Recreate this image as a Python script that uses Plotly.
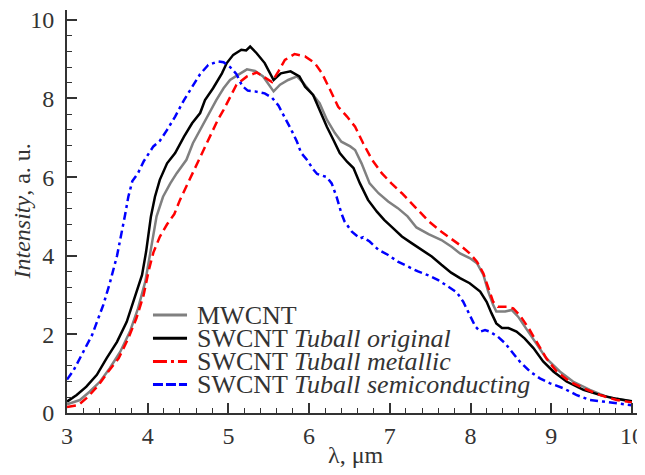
import plotly.graph_objects as go

# ---------------- data ----------------
mw_x = [3.00, 3.04, 3.16, 3.28, 3.41, 3.53, 3.66, 3.78, 3.88, 3.97, 4.02, 4.07, 4.11, 4.19, 4.28,
        4.36, 4.48, 4.56, 4.67, 4.77, 4.85, 4.94, 5.02, 5.12, 5.23, 5.33, 5.43, 5.56, 5.64, 5.74,
        5.85, 5.93, 6.03, 6.13, 6.22, 6.32, 6.40, 6.51, 6.57, 6.65, 6.75, 6.86, 6.98, 7.10, 7.22,
        7.33, 7.48, 7.64, 7.77, 7.87, 7.99, 8.08, 8.16, 8.22, 8.28, 8.32, 8.43, 8.51, 8.59, 8.70,
        8.82, 8.94, 9.11, 9.27, 9.48, 9.69, 9.89, 10.0]
mw_y = [0.22, 0.25, 0.33, 0.54, 0.80, 1.14, 1.56, 2.07, 2.66, 3.34, 3.94, 4.61, 5.00, 5.50, 5.84,
        6.10, 6.44, 6.86, 7.28, 7.63, 7.96, 8.26, 8.47, 8.60, 8.74, 8.70, 8.56, 8.18, 8.35, 8.47,
        8.56, 8.39, 8.13, 7.88, 7.46, 7.12, 6.90, 6.78, 6.69, 6.35, 5.84, 5.59, 5.38, 5.21, 5.00,
        4.72, 4.55, 4.40, 4.22, 4.06, 3.94, 3.81, 3.51, 3.09, 2.75, 2.58, 2.58, 2.62, 2.45, 2.11,
        1.73, 1.39, 1.05, 0.80, 0.59, 0.41, 0.33, 0.29]

orig_x = [3.00, 3.12, 3.24, 3.37, 3.49, 3.62, 3.74, 3.84, 3.93, 3.98, 4.01, 4.04, 4.09, 4.15, 4.24,
          4.34, 4.45, 4.55, 4.65, 4.71, 4.81, 4.92, 4.98, 5.06, 5.16, 5.22, 5.27, 5.35, 5.45, 5.56,
          5.65, 5.77, 5.88, 5.95, 6.05, 6.13, 6.22, 6.30, 6.38, 6.47, 6.55, 6.63, 6.73, 6.84, 6.93,
          7.02, 7.15, 7.27, 7.39, 7.52, 7.64, 7.76, 7.87, 7.99, 8.12, 8.20, 8.26, 8.32, 8.39, 8.47,
          8.57, 8.67, 8.78, 8.90, 9.03, 9.19, 9.40, 9.60, 9.81, 10.0]
orig_y = [0.29, 0.46, 0.67, 0.97, 1.39, 1.81, 2.32, 2.92, 3.51, 4.10, 4.61, 5.00, 5.50, 5.93, 6.35,
          6.61, 7.03, 7.37, 7.63, 7.96, 8.26, 8.64, 8.90, 9.11, 9.24, 9.22, 9.32, 9.15, 8.90, 8.47,
          8.64, 8.69, 8.56, 8.30, 8.09, 7.71, 7.28, 6.95, 6.61, 6.39, 6.23, 5.84, 5.42, 5.12, 4.91,
          4.74, 4.49, 4.32, 4.15, 3.98, 3.77, 3.57, 3.43, 3.30, 3.09, 2.83, 2.54, 2.28, 2.16, 2.16,
          2.07, 1.90, 1.65, 1.31, 1.05, 0.80, 0.59, 0.46, 0.36, 0.30]

met_x = [3.00, 3.14, 3.26, 3.39, 3.51, 3.64, 3.76, 3.86, 3.95, 4.01, 4.07, 4.15, 4.24, 4.33, 4.40,
         4.48, 4.59, 4.69, 4.79, 4.87, 4.94, 5.02, 5.10, 5.23, 5.35, 5.43, 5.54, 5.62, 5.70, 5.82,
         5.95, 6.07, 6.16, 6.26, 6.36, 6.47, 6.57, 6.67, 6.78, 6.90, 7.02, 7.15, 7.27, 7.39, 7.48,
         7.64, 7.75, 7.87, 7.99, 8.08, 8.16, 8.22, 8.28, 8.34, 8.45, 8.53, 8.61, 8.72, 8.82, 8.94,
         9.07, 9.23, 9.40, 9.60, 9.81, 10.0]
met_y = [0.15, 0.20, 0.41, 0.71, 1.05, 1.39, 1.90, 2.41, 3.00, 3.60, 4.08, 4.48, 4.80, 5.06, 5.42,
         5.76, 6.27, 6.69, 7.12, 7.46, 7.71, 8.05, 8.35, 8.56, 8.66, 8.56, 8.42, 8.69, 8.98, 9.13,
         9.07, 8.90, 8.64, 8.22, 7.79, 7.54, 7.28, 6.86, 6.44, 6.10, 5.84, 5.59, 5.34, 5.08, 4.88,
         4.61, 4.45, 4.27, 4.06, 3.85, 3.55, 3.17, 2.83, 2.70, 2.70, 2.66, 2.49, 2.16, 1.81, 1.39,
         1.05, 0.80, 0.63, 0.46, 0.33, 0.27]

semi_x = [3.00, 3.08, 3.20, 3.31, 3.45, 3.53, 3.62, 3.68, 3.72, 3.76, 3.81, 3.88, 3.95, 4.07, 4.15,
          4.24, 4.34, 4.45, 4.55, 4.65, 4.75, 4.87, 4.94, 5.02, 5.10, 5.17, 5.24, 5.33, 5.45, 5.54,
          5.62, 5.70, 5.78, 5.85, 5.90, 5.97, 6.05, 6.10, 6.16, 6.22, 6.28, 6.34, 6.40, 6.44, 6.53,
          6.63, 6.67, 6.75, 6.86, 6.98, 7.10, 7.23, 7.35, 7.48, 7.60, 7.72, 7.83, 7.91, 7.99, 8.06,
          8.12, 8.18, 8.24, 8.34, 8.43, 8.51, 8.61, 8.74, 8.86, 8.98, 9.15, 9.31, 9.48, 9.64, 9.81,
          10.0]
semi_y = [0.85, 1.08, 1.55, 1.98, 2.75, 3.30, 4.00, 4.60, 5.04, 5.50, 5.90, 6.10, 6.40, 6.78, 6.92,
          7.20, 7.54, 7.96, 8.28, 8.62, 8.85, 8.94, 8.92, 8.80, 8.62, 8.32, 8.20, 8.18, 8.13, 8.02,
          7.82, 7.52, 7.20, 6.90, 6.62, 6.45, 6.20, 6.08, 6.03, 6.00, 5.84, 5.50, 5.08, 4.87, 4.61,
          4.44, 4.47, 4.36, 4.15, 4.02, 3.85, 3.72, 3.60, 3.50, 3.38, 3.22, 3.07, 2.83, 2.50, 2.20,
          2.07, 2.11, 2.07, 1.94, 1.77, 1.56, 1.31, 1.05, 0.88, 0.76, 0.63, 0.46, 0.33, 0.29, 0.25,
          0.20]

x_ticks = [3, 4, 5, 6, 7, 8, 9, 10]
y_ticks = [0, 2, 4, 6, 8, 10]

legend_labels = ["MWCNT",
                 "SWCNT <i>Tuball original</i>",
                 "SWCNT <i>Tuball metallic</i>",
                 "SWCNT <i>Tuball semiconducting</i>"]
x_title = "λ, μm"
y_title = "<i>Intensity</i>, a. u."

# ---------------- styles ----------------
FONT = "Liberation Serif"
TXT = "#333333"
AX = "#333333"
colors = ["#808080", "#000000", "#ff0000", "#0000ff"]
curve_dash = ["solid", "solid", "9px,5px", "8px,4px,3px,4px"]
legend_dash = ["solid", "solid", "14px,4px,3px,4px", "10px,3px"]

series = [(mw_x, mw_y), (orig_x, orig_y), (met_x, met_y), (semi_x, semi_y)]

fig = go.Figure()
for i, (xs, ys) in enumerate(series):
    fig.add_trace(go.Scatter(x=xs, y=ys, mode="lines", name=legend_labels[i],
                             line=dict(color=colors[i], width=2.5, dash=curve_dash[i]),
                             showlegend=False))

# legend drawn manually (tight rows as in the reference)
row0, row_step = 0.243, 0.0575
for i, lab in enumerate(legend_labels):
    yy = row0 - i * row_step
    fig.add_shape(type="line", xref="paper", yref="paper",
                  x0=0.149, x1=0.208, y0=yy, y1=yy,
                  line=dict(color=colors[i], width=3, dash=legend_dash[i]))
    fig.add_annotation(xref="paper", yref="paper", x=0.222, y=yy,
                       xanchor="left", yanchor="middle", showarrow=False,
                       text=lab, font=dict(family=FONT, size=26, color=TXT))

# axis titles placed as in the reference
fig.add_annotation(xref="paper", yref="paper", x=-0.078, y=0.5, textangle=-90,
                   xanchor="center", yanchor="middle", showarrow=False,
                   text=y_title, font=dict(family=FONT, size=24, color=TXT))
fig.add_annotation(xref="paper", yref="paper", x=0.5, y=-0.104,
                   xanchor="center", yanchor="middle", showarrow=False,
                   text=x_title, font=dict(family=FONT, size=24, color=TXT))

axis_common = dict(showline=True, linecolor=AX, linewidth=2, ticks="inside",
                   ticklen=10, tickwidth=1.5, tickcolor=AX, showgrid=False,
                   zeroline=False, mirror=False, automargin=False,
                   ticklabeloverflow="allow",
                   tickfont=dict(family=FONT, size=24, color=TXT))

fig.update_xaxes(range=[3, 10.15], tickvals=x_ticks,
                 minor=dict(ticks="inside", ticklen=5, tickwidth=1.2, tickcolor=AX, dtick=0.2, tick0=3),
                 **axis_common)
fig.update_yaxes(range=[0, 10.25], tickvals=y_ticks, ticklabelstandoff=6,
                 minor=dict(ticks="inside", ticklen=5, tickwidth=1.2, tickcolor=AX, dtick=0.4, tick0=0),
                 **axis_common)

# the page body adds an 8px offset, so the figure is 8px smaller on each side
fig.update_layout(width=637, height=467,
                  margin=dict(l=59, r=1, t=2, b=62),
                  plot_bgcolor="white", paper_bgcolor="white",
                  font=dict(family=FONT),
                  showlegend=False)

fig.write_html("out.html")
